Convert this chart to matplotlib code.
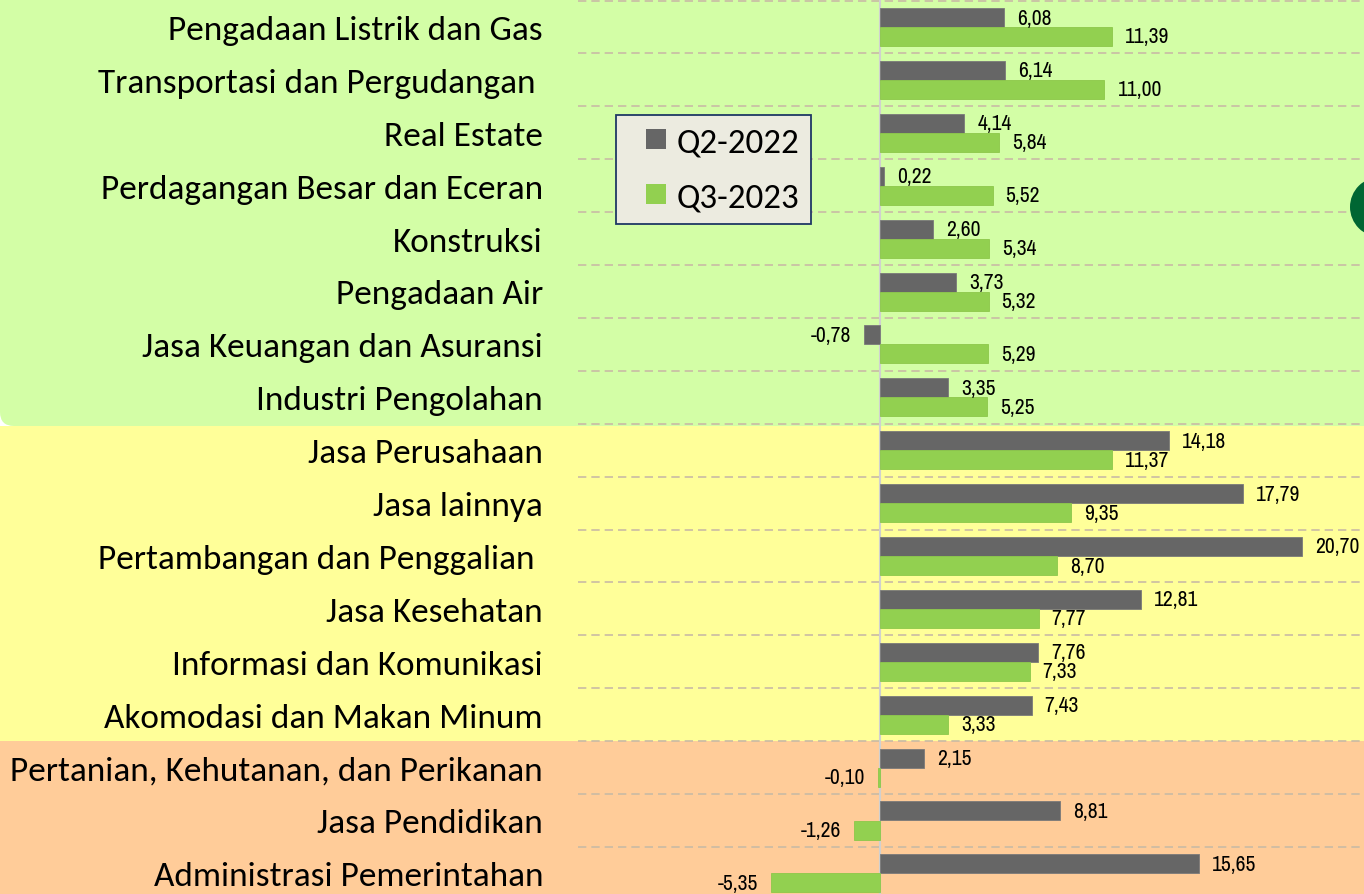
import matplotlib
matplotlib.use("Agg")
import matplotlib.pyplot as plt
from matplotlib import font_manager as fm
from matplotlib.patches import FancyBboxPatch, Rectangle, Ellipse, Patch
from matplotlib.legend_handler import HandlerPatch

categories = [
    "Pengadaan Listrik dan Gas",
    "Transportasi dan Pergudangan ",
    "Real Estate",
    "Perdagangan Besar dan Eceran",
    "Konstruksi",
    "Pengadaan Air",
    "Jasa Keuangan dan Asuransi",
    "Industri Pengolahan",
    "Jasa Perusahaan",
    "Jasa lainnya",
    "Pertambangan dan Penggalian ",
    "Jasa Kesehatan",
    "Informasi dan Komunikasi",
    "Akomodasi dan Makan Minum",
    "Pertanian, Kehutanan, dan Perikanan",
    "Jasa Pendidikan",
    "Administrasi Pemerintahan",
]
q2_2022 = [6.08, 6.14, 4.14, 0.22, 2.60, 3.73, -0.78, 3.35,
           14.18, 17.79, 20.70, 12.81, 7.76, 7.43,
           2.15, 8.81, 15.65]
q3_2023 = [11.39, 11.00, 5.84, 5.52, 5.34, 5.32, 5.29, 5.25,
           11.37, 9.35, 8.70, 7.77, 7.33, 3.33,
           -0.10, -1.26, -5.35]
series_names = ["Q2-2022", "Q3-2023"]


def has_font(name):
    try:
        fm.findfont(fm.FontProperties(family=name), fallback_to_default=False)
        return True
    except Exception:
        return False


if has_font("Carlito"):
    CAT_FAMILY, CAT_SIZE, LEG_SIZE = ["Carlito", "DejaVu Sans"], 25.4, 25.2
    LEG_HL, LEG_LS, LEG_BP, LEG_TP = 1.08, 0.71, 0.35, 0.29
else:
    CAT_FAMILY, CAT_SIZE, LEG_SIZE = ["Lato", "DejaVu Sans"], 23.6, 22
    LEG_HL, LEG_LS, LEG_BP, LEG_TP = 1.15, 0.85, 0.5, 0.32
VAL_FAMILY = ["Archivo Narrow", "Liberation Sans", "DejaVu Sans"]
VAL_SIZE = 15.5 if has_font("Archivo Narrow") else 12.6

W, H = 1364, 895
fig = plt.figure(figsize=(W / 100, H / 100), dpi=100)
fig.patch.set_facecolor("white")

GREEN_BG = "#D3FEA6"
YELLOW_BG = "#FFFF99"
ORANGE_BG = "#FFCC99"
DARK = "#666666"
GREEN = "#92D050"

# background bands (pixel coordinates, origin bottom-left)
fig.patches.append(Rectangle((0, 0), W, H - 742, transform=None,
                             facecolor=ORANGE_BG, edgecolor="none", zorder=-10))
fig.patches.append(Rectangle((0, H - 742), W, 742 - 427, transform=None,
                             facecolor=YELLOW_BG, edgecolor="none", zorder=-10))
fig.patches.append(FancyBboxPatch((0, H - 427), W + 60, 500, transform=None,
                                  boxstyle="round,pad=0,rounding_size=14",
                                  facecolor=GREEN_BG, edgecolor="none", zorder=-9))
fig.patches.append(Ellipse((1380 / W, 1 - 208 / H), 60 / W, 60 / H,
                           transform=fig.transFigure, facecolor="#006633",
                           edgecolor="none", zorder=5))

left = 578 / W
ax = fig.add_axes([left, 0, 1 - left, 1])
ax.set_facecolor("none")
px_per_unit = 20.4
x0 = (880 - 578) / px_per_unit
ax.set_xlim(-x0, (W - 578) / px_per_unit - x0)
row = 52.9
ax.set_ylim((H - 28) / row, -28 / row)

n = len(categories)
ys = list(range(n))
bh = 19 / row
off = 9.5 / row
ax.barh([y - off for y in ys], q2_2022, height=bh, color=DARK,
        edgecolor="#7a7a7a", linewidth=0.6, zorder=3, label=series_names[0])
ax.barh([y + off for y in ys], q3_2023, height=bh, color=GREEN,
        edgecolor="#8cc84a", linewidth=0.6, zorder=3, label=series_names[1])

lab_font = dict(family=VAL_FAMILY, fontsize=VAL_SIZE, color="black")
gap = 13 * 0.72
for y, v in zip(ys, q2_2022):
    s = f"{v:.2f}".replace(".", ",")
    ax.annotate(s, (v, y - off), xytext=(gap if v >= 0 else -gap, 0),
                textcoords="offset points", ha="left" if v >= 0 else "right",
                va="center", zorder=4, **lab_font)
for y, v in zip(ys, q3_2023):
    s = f"{v:.2f}".replace(".", ",")
    ax.annotate(s, (v, y + off), xytext=(gap if v >= 0 else -gap, 0),
                textcoords="offset points", ha="left" if v >= 0 else "right",
                va="center", zorder=4, **lab_font)

# grid lines between rows
for b in range(-1, n):
    ax.axhline(b + 0.5, color="#C9BBA5", linestyle=(0, (5, 3)), linewidth=1.2, zorder=1)
ax.axvline(0, color="#D0D0D0", linewidth=1.5, zorder=2)

ax.set_yticks(ys)
ax.set_yticklabels(categories, family=CAT_FAMILY, fontsize=CAT_SIZE)
ax.tick_params(axis="y", length=0, pad=35 * 0.72)
ax.set_xticks([])
for sp in ax.spines.values():
    sp.set_visible(False)


def square_patch(legend, orig_handle, xdescent, ydescent, width, height, fontsize):
    s = 14.4
    return Rectangle((width - s - xdescent, (height - s) / 2 - ydescent), s, s)


handles = [Patch(facecolor=DARK, edgecolor="none"), Patch(facecolor=GREEN, edgecolor="none")]
leg = fig.legend(handles, series_names, loc="upper left",
                 bbox_to_anchor=(616 / W, 1 - 116 / H),
                 prop={"family": CAT_FAMILY, "size": LEG_SIZE},
                 frameon=True, fancybox=False, framealpha=1,
                 facecolor="#ECEBE0", edgecolor="#1F3864",
                 handlelength=LEG_HL, handleheight=0.6, handletextpad=LEG_TP,
                 labelspacing=LEG_LS, borderpad=LEG_BP, borderaxespad=0,
                 handler_map={Patch: HandlerPatch(patch_func=square_patch)})
leg.get_frame().set_linewidth(1.3)

fig.savefig("out.png", dpi=100)
